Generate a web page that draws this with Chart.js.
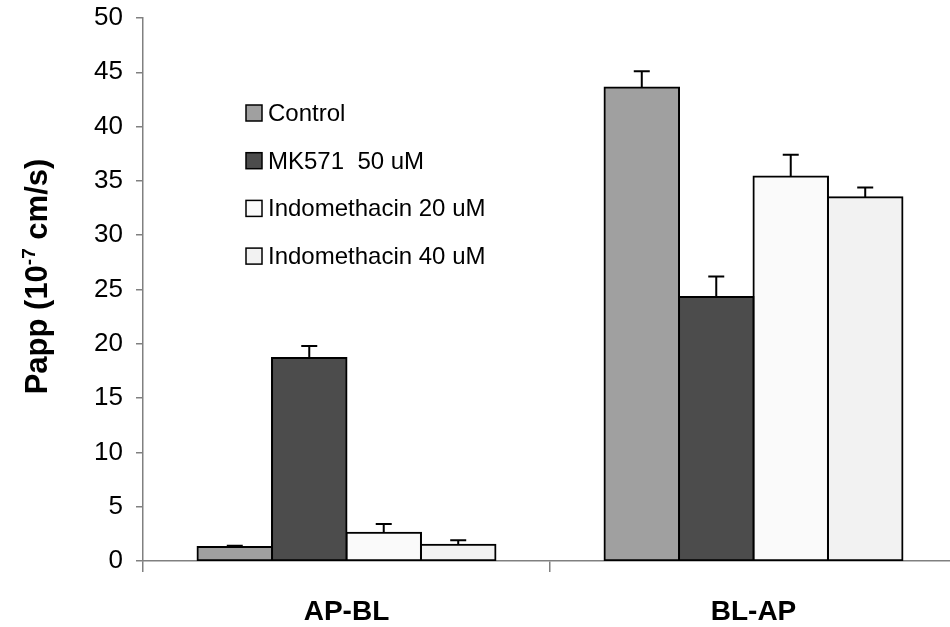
<!DOCTYPE html>
<html>
<head>
<meta charset="utf-8">
<script src="https://cdn.jsdelivr.net/npm/chart.js@4"></script>
<style>
  html, body { margin: 0; padding: 0; background: #fff; overflow: hidden; }
  #wrap { width: 950px; height: 627px; overflow: hidden; }
</style>
</head>
<body>
<div id="wrap"><canvas id="papp" width="960" height="627"></canvas></div>
<script>
// data
const categories = ['AP-BL', 'BL-AP'];
const seriesLabels = ['Control', 'MK571  50 uM', 'Indomethacin 20 uM', 'Indomethacin 40 uM'];
const control = [1.3, 43.6];
const controlErr = [0.1, 1.5];
const mk571 = [18.7, 24.3];
const mk571Err = [1.1, 1.9];
const indo20 = [2.6, 35.4];
const indo20Err = [0.8, 2.0];
const indo40 = [1.5, 33.5];
const indo40Err = [0.4, 0.9];
const yTicks = [0, 5, 10, 15, 20, 25, 30, 35, 40, 45, 50];

const fills = ['#a0a0a0', '#4c4c4c', '#fafafa', '#f2f2f2'];
const values = [control, mk571, indo20, indo40];
const errors = [controlErr, mk571Err, indo20Err, indo40Err];

const FONT = "'Liberation Sans', Arial, sans-serif";
const axisGrey = '#808080';

// error bars (upper half only, like the original)
const errorBars = {
    id: 'errorBars',
    afterDatasetsDraw(chart) {
        const ctx = chart.ctx;
        const y = chart.scales.y;
        ctx.save();
        ctx.strokeStyle = '#000';
        ctx.lineWidth = 2;
        chart.data.datasets.forEach((ds, i) => {
            const meta = chart.getDatasetMeta(i);
            meta.data.forEach((bar, j) => {
                const top = y.getPixelForValue(ds.data[j] + ds.errors[j]);
                ctx.beginPath();
                ctx.moveTo(bar.x, bar.y);
                ctx.lineTo(bar.x, top);
                ctx.moveTo(bar.x - 8, top);
                ctx.lineTo(bar.x + 8, top);
                ctx.stroke();
            });
        });
        ctx.restore();
    }
};

// legend floating inside the plot + y title with superscript
const extras = {
    id: 'extras',
    afterDraw(chart) {
        const ctx = chart.ctx;
        ctx.save();
        ctx.font = '24px ' + FONT;
        ctx.textBaseline = 'alphabetic';
        ctx.fillStyle = '#000';
        chart.data.datasets.forEach((ds, i) => {
            const cy = 113 + i * 47.7;
            ctx.fillStyle = ds.backgroundColor;
            ctx.fillRect(246, cy - 8, 16, 16);
            ctx.strokeStyle = '#000';
            ctx.lineWidth = 1.5;
            ctx.strokeRect(246, cy - 8, 16, 16);
            ctx.fillStyle = '#000';
            ctx.fillText(ds.label, 268, cy + 8);
        });

        // y axis title
        const a = chart.chartArea;
        ctx.translate(47, (a.top + a.bottom) / 2 - 13);
        ctx.rotate(-Math.PI / 2);
        const big = 'bold 31px ' + FONT;
        const small = 'bold 19px ' + FONT;
        const p1 = 'Papp (10', p2 = '-7', p3 = ' cm/s)';
        ctx.font = big;
        const w1 = ctx.measureText(p1).width, w3 = ctx.measureText(p3).width;
        ctx.font = small;
        const w2 = ctx.measureText(p2).width;
        let x = -(w1 + w2 + w3) / 2;
        ctx.font = big;
        ctx.fillText(p1, x, 0);
        x += w1;
        ctx.font = small;
        ctx.fillText(p2, x, -12);
        x += w2;
        ctx.font = big;
        ctx.fillText(p3, x, 0);
        ctx.restore();
    }
};

new Chart(document.getElementById('papp'), {
    type: 'bar',
    data: {
        labels: categories,
        datasets: seriesLabels.map((label, i) => ({
            label: label,
            data: values[i],
            errors: errors[i],
            backgroundColor: fills[i],
            borderColor: '#000',
            borderWidth: 2,
            borderSkipped: false,
            inflateAmount: 1,
            barPercentage: 1,
            categoryPercentage: 0.732
        }))
    },
    options: {
        responsive: false,
        animation: false,
        layout: { padding: { top: 18, right: 3, left: 0, bottom: 0 } },
        plugins: {
            legend: { display: false },
            tooltip: { enabled: false }
        },
        scales: {
            x: {
                grid: { display: true, drawOnChartArea: false, offset: true, tickLength: 11, color: axisGrey, lineWidth: 1.5 },
                border: { color: axisGrey, width: 1.5 },
                ticks: { color: '#000', font: { family: FONT, size: 28, weight: 'bold' }, padding: 23 },
                afterFit: (s) => { s.height = 66; }
            },
            y: {
                min: 0,
                max: 50,
                afterBuildTicks: (s) => { s.ticks = yTicks.map(v => ({ value: v })); },
                grid: { display: true, drawOnChartArea: false, tickLength: 7, color: axisGrey, lineWidth: 1.5 },
                border: { color: axisGrey, width: 1.5 },
                ticks: { color: '#000', font: { family: FONT, size: 26 }, padding: 13 },
                afterFit: (s) => { s.width = 143; s.paddingTop = 0; s.paddingBottom = 0; }
            }
        }
    },
    plugins: [errorBars, extras]
});
</script>
</body>
</html>
